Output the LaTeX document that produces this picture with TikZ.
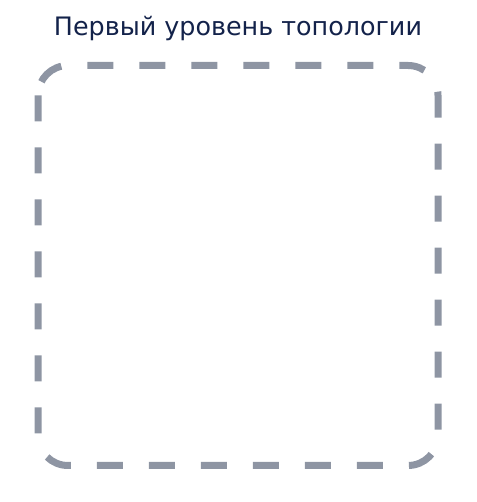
\documentclass[tikz,border=0pt]{standalone}
\usepackage{fontspec}
\setmainfont{DejaVu Sans}
\definecolor{boxgray}{HTML}{8E95A3}
\definecolor{titleblue}{HTML}{13224A}
\tikzset{
  groupbox/.style={draw=boxgray, line width=7pt, dash pattern=on 26pt off 26pt, rounded corners=30pt},
  titletext/.style={text=titleblue, font=\fontsize{25.4}{30}\selectfont, inner sep=0pt}
}
\begin{document}
\begin{tikzpicture}[x=1pt,y=1pt]
\useasboundingbox (0,0) rectangle (476,502);
\node[titletext] (title) at (238,473) {Первый уровень топологии};
\draw[groupbox] (38,436.5) rectangle (438,36.5);
\end{tikzpicture}
\end{document}
